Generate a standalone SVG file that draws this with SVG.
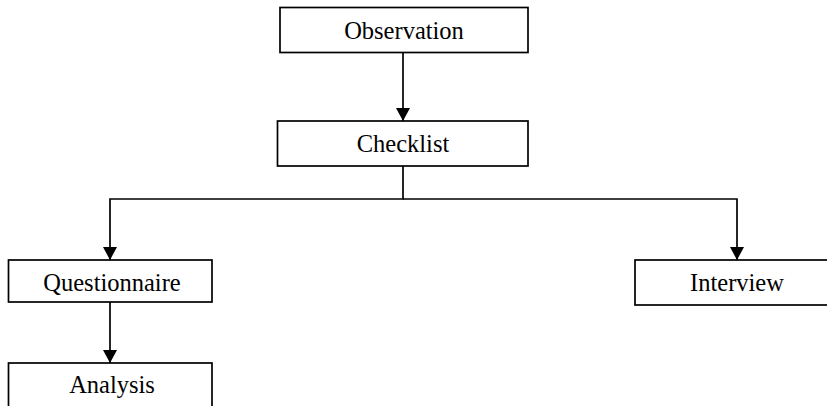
<svg xmlns="http://www.w3.org/2000/svg" width="827" height="406" viewBox="0 0 827 406">
<style>
.box{fill:#fff;stroke:#000;stroke-width:1.7}
.lbl{font-family:"Liberation Serif","Times New Roman",serif;font-size:24.5px;fill:#000;text-anchor:middle}
.conn{fill:none;stroke:#000;stroke-width:1.7}
</style>
<defs>
<marker id="arr" viewBox="0 0 13 14" refX="13" refY="7" markerWidth="13" markerHeight="14" markerUnits="userSpaceOnUse" orient="auto">
<path d="M0,0 L13,7 L0,14 Z" fill="#000"/>
</marker>
</defs>
<rect width="827" height="406" fill="#fff"/>
<g id="connectors">
<line class="conn" x1="403" y1="52.5" x2="403" y2="121" marker-end="url(#arr)"/>
<polyline class="conn" points="403,166 403,199 110,199 110,260" marker-end="url(#arr)"/>
<polyline class="conn" points="403,199 737,199 737,260" marker-end="url(#arr)"/>
<line class="conn" x1="110" y1="302" x2="110" y2="363" marker-end="url(#arr)"/>
</g>
<g id="observation">
<rect class="box" x="280" y="7.5" width="248" height="45"/>
<text class="lbl" x="404" y="39">Observation</text>
</g>
<g id="checklist">
<rect class="box" x="277.5" y="121" width="250.5" height="45"/>
<text class="lbl" x="403" y="152">Checklist</text>
</g>
<g id="questionnaire">
<rect class="box" x="8.5" y="260" width="203.5" height="42"/>
<text class="lbl" x="112" y="291">Questionnaire</text>
</g>
<g id="interview">
<rect class="box" x="635" y="260" width="204" height="45"/>
<text class="lbl" x="737" y="291">Interview</text>
</g>
<g id="analysis">
<rect class="box" x="8.5" y="363" width="203.5" height="50"/>
<text class="lbl" x="112" y="393">Analysis</text>
</g>
</svg>
